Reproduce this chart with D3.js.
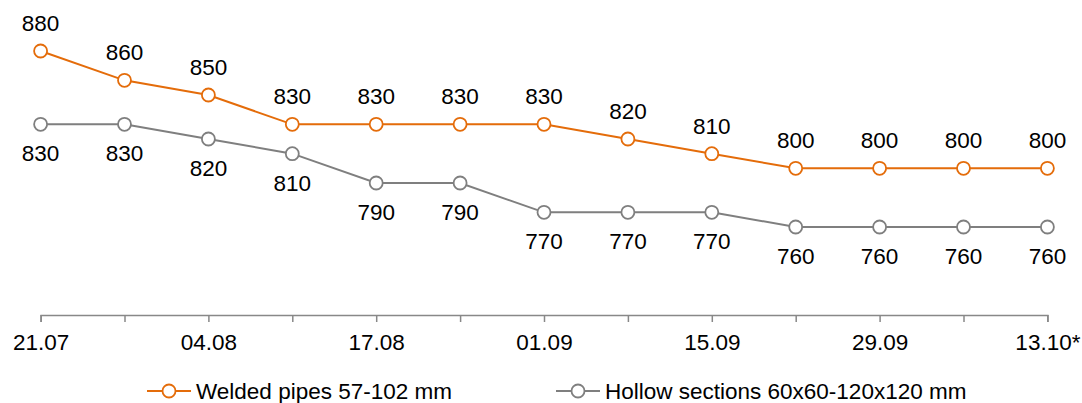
<!DOCTYPE html>
<html>
<head>
<meta charset="utf-8">
<script src="https://cdn.jsdelivr.net/npm/d3@7/dist/d3.min.js"></script>
<style>
  html, body { margin: 0; padding: 0; background: #fff; }
  svg { display: block; font-family: "Liberation Sans", Arial, sans-serif; }
</style>
</head>
<body>
<svg id="chart" width="1082" height="403"></svg>
<script>
// Weekly price observations
const dates = ["21.07", "28.07", "04.08", "11.08", "17.08", "25.08", "01.09",
               "08.09", "15.09", "22.09", "29.09", "06.10", "13.10*"];
const weldedPipes = [880, 860, 850, 830, 830, 830, 830, 820, 810, 800, 800, 800, 800];
const hollowSections = [830, 830, 820, 810, 790, 790, 770, 770, 770, 760, 760, 760, 760];
const seriesNames = ["Welded pipes 57-102 mm", "Hollow sections 60x60-120x120 mm"];
const yDomain = [700, 880];

const orange = "#E46C0A";
const grey = "#7F7F7F";
const fontSize = 22.5;

const svg = d3.select("#chart");

const x = d3.scalePoint().domain(dates).range([40.6, 1047.4]);
const y = d3.scaleLinear().domain(yDomain).range([315, 51]);

// Category axis with every other label shown
const axis = d3.axisBottom(x)
  .tickSize(7)
  .tickPadding(12)
  .tickFormat((d, i) => (i % 2 === 0 ? d : ""));

const gx = svg.append("g")
  .attr("transform", `translate(0,${y(yDomain[0])})`)
  .call(axis);
gx.select(".domain").attr("stroke", "#888").attr("stroke-width", 1.5);
gx.selectAll(".tick line").attr("stroke", "#888").attr("stroke-width", 1.5);
gx.selectAll(".tick text")
  .attr("fill", "#000")
  .attr("font-size", fontSize)
  .attr("font-family", "Liberation Sans, Arial, sans-serif");

const line = d3.line().x((d, i) => x(dates[i])).y(d => y(d));

function drawSeries(values, color, labelDy) {
  const g = svg.append("g");
  g.append("path")
    .datum(values)
    .attr("fill", "none")
    .attr("stroke", color)
    .attr("stroke-width", 2)
    .attr("d", line);
  g.selectAll("circle")
    .data(values)
    .join("circle")
    .attr("cx", (d, i) => x(dates[i]))
    .attr("cy", d => y(d))
    .attr("r", 6.5)
    .attr("fill", "#fff")
    .attr("stroke", color)
    .attr("stroke-width", 1.8);
  g.selectAll("text")
    .data(values)
    .join("text")
    .attr("x", (d, i) => x(dates[i]))
    .attr("y", d => y(d) + labelDy)
    .attr("text-anchor", "middle")
    .attr("font-size", fontSize)
    .attr("fill", "#000")
    .text(d => d);
}

drawSeries(hollowSections, grey, 37);
drawSeries(weldedPipes, orange, -20);

// Legend
const legendItems = [
  { name: seriesNames[0], color: orange, x0: 147 },
  { name: seriesNames[1], color: grey, x0: 556 }
];
const ly = 391;
const lg = svg.append("g");
legendItems.forEach(item => {
  lg.append("line")
    .attr("x1", item.x0).attr("x2", item.x0 + 44)
    .attr("y1", ly).attr("y2", ly)
    .attr("stroke", item.color).attr("stroke-width", 2);
  lg.append("circle")
    .attr("cx", item.x0 + 22).attr("cy", ly).attr("r", 6.5)
    .attr("fill", "#fff").attr("stroke", item.color).attr("stroke-width", 1.8);
  lg.append("text")
    .attr("x", item.x0 + 49).attr("y", ly + 7.5)
    .attr("font-size", fontSize)
    .attr("fill", "#000")
    .text(item.name);
});
</script>
</body>
</html>
